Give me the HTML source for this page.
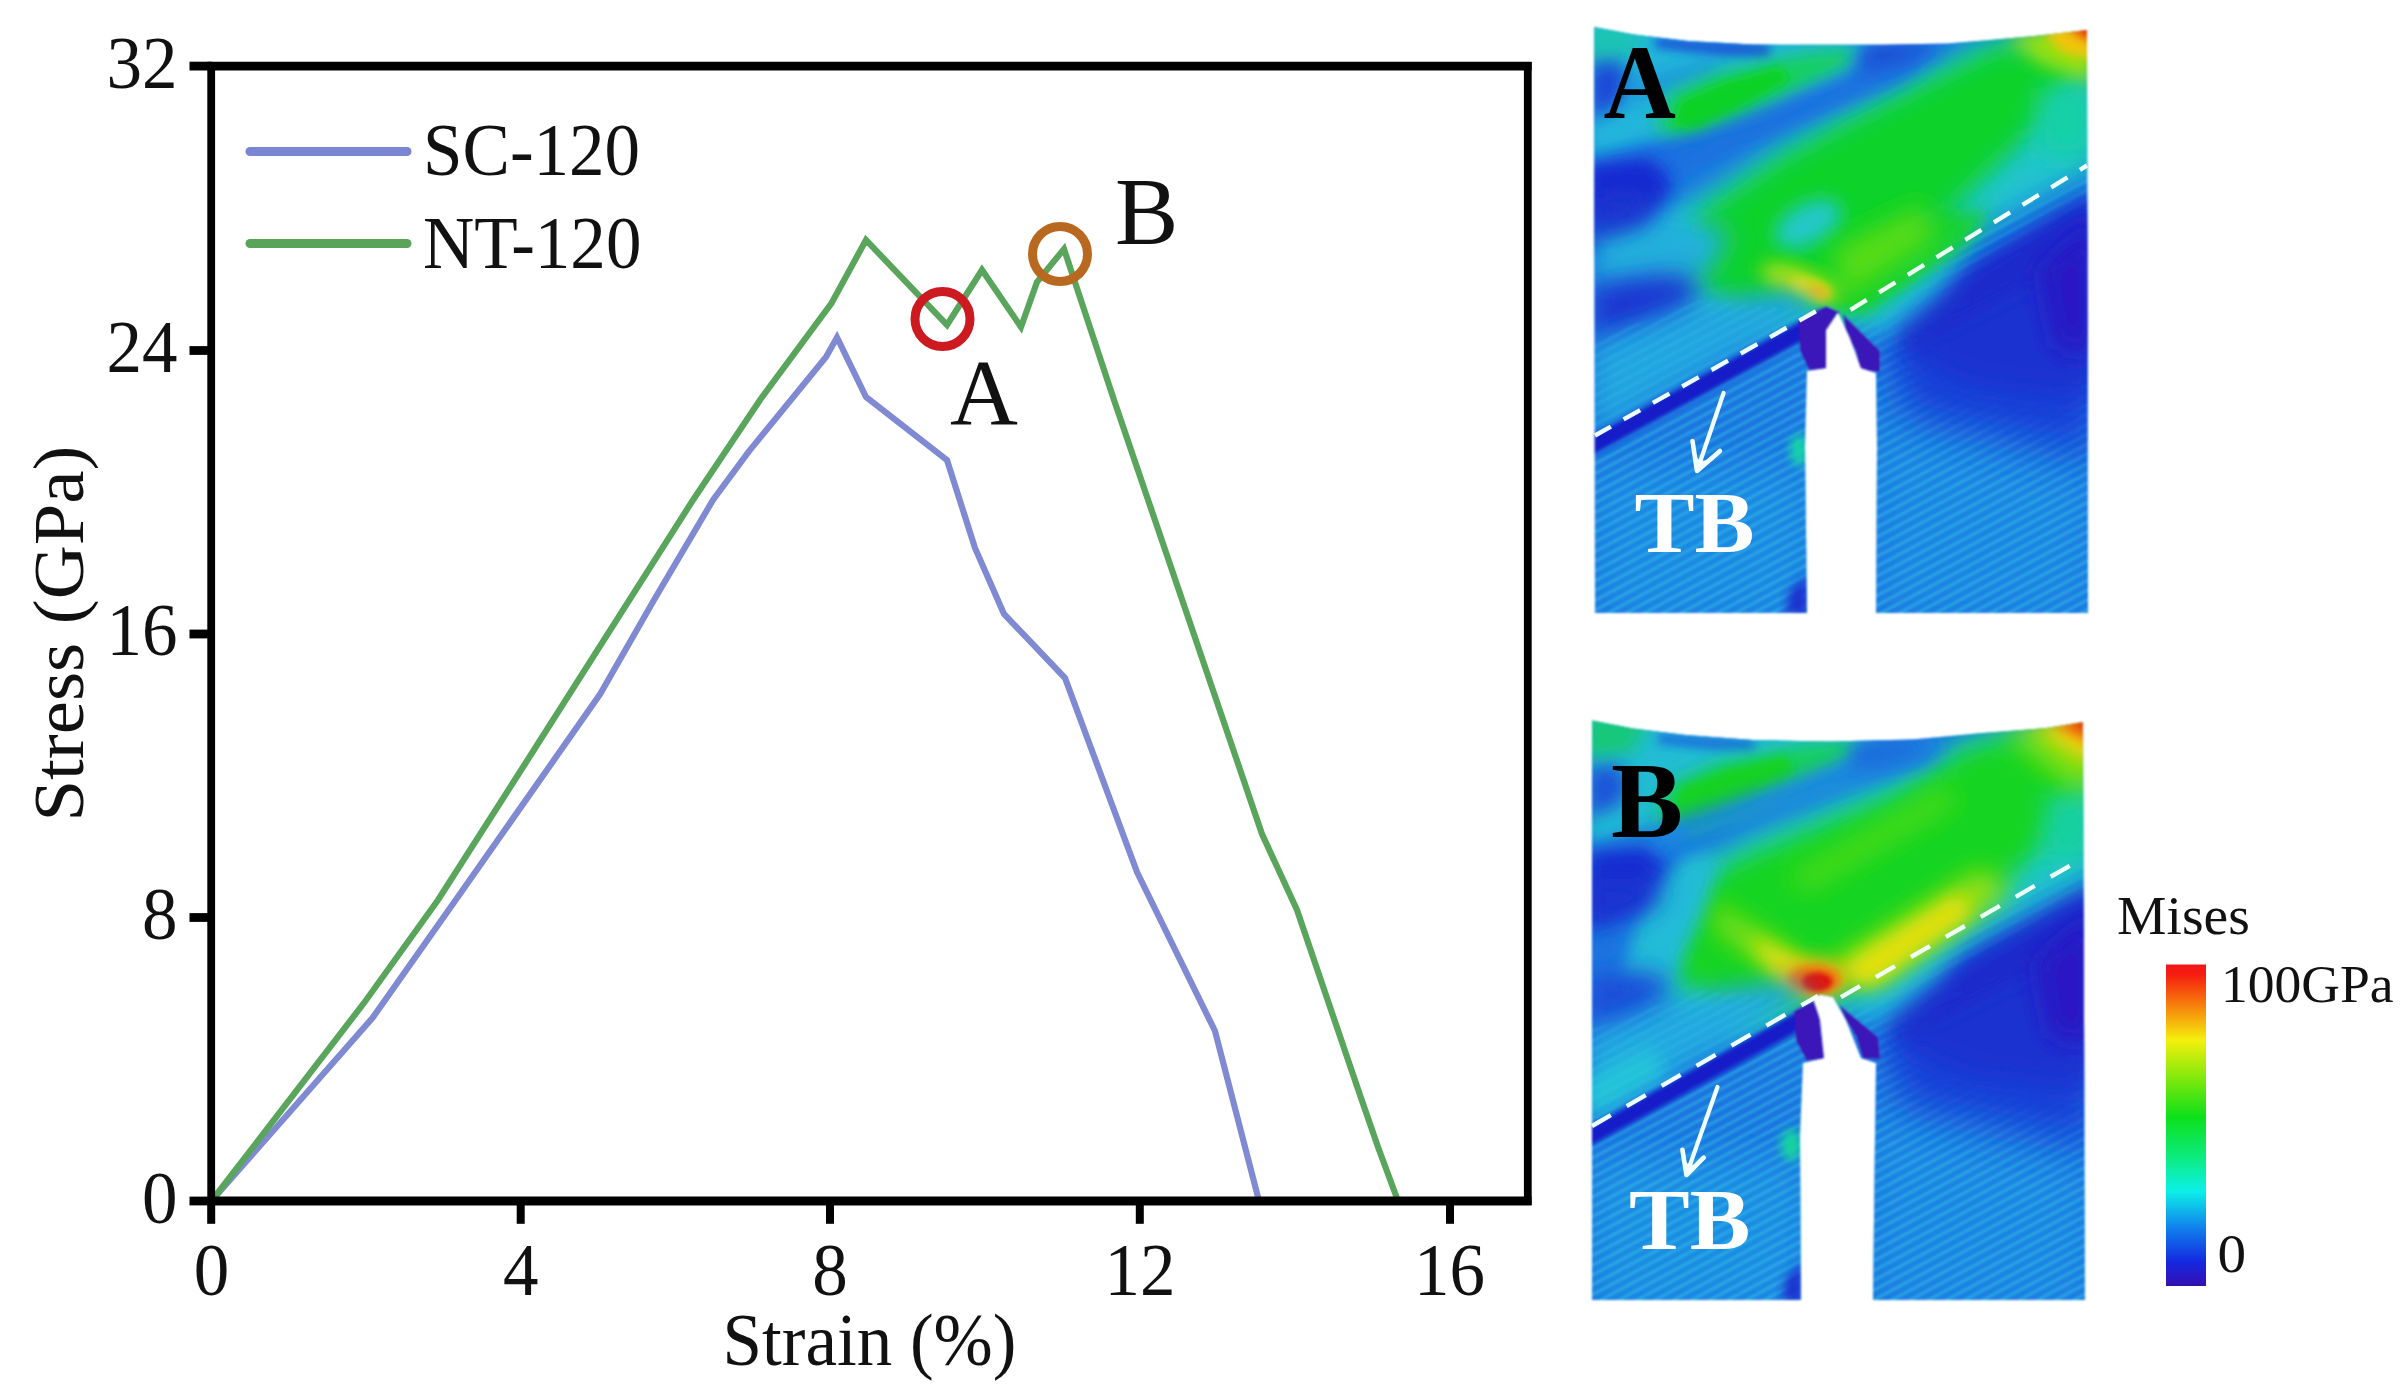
<!DOCTYPE html>
<html><head><meta charset="utf-8"><title>Stress-strain figure</title>
<style>
html,body{margin:0;padding:0;background:#fff;}
body{width:2407px;height:1399px;overflow:hidden;}
svg{display:block;}
text{font-family:"Liberation Serif","Times New Roman",serif;fill:#111;}
</style></head><body>
<svg width="2407" height="1399" viewBox="0 0 2407 1399">
<defs>
<filter id="b2" x="-20%" y="-20%" width="140%" height="140%"><feGaussianBlur stdDeviation="2"/></filter>
<filter id="b4" x="-30%" y="-30%" width="160%" height="160%"><feGaussianBlur stdDeviation="5"/></filter>
<filter id="b7" x="-40%" y="-40%" width="180%" height="180%"><feGaussianBlur stdDeviation="9"/></filter>
<filter id="b10" x="-50%" y="-50%" width="200%" height="200%"><feGaussianBlur stdDeviation="13"/></filter>
<filter id="b14" x="-60%" y="-60%" width="220%" height="220%"><feGaussianBlur stdDeviation="14"/></filter>
<filter id="b20" x="-80%" y="-80%" width="260%" height="260%"><feGaussianBlur stdDeviation="20"/></filter>
<filter id="b30" x="-100%" y="-100%" width="300%" height="300%"><feGaussianBlur stdDeviation="30"/></filter>
<filter id="soft" x="-5%" y="-5%" width="110%" height="110%"><feGaussianBlur stdDeviation="1.2"/></filter>
<clipPath id="clipA"><path d="M1594,27 L1634,34.5 L1688,41 L1753,44.6 L1882,44.8 L1947,43.5 L1990,40 L2034,36 L2087,30 L2088,613 L1876,613 L1877,446 L1876,373 L1861,368 L1850,338 L1838,312 L1826,330 L1826,368 L1807,371 L1805,446 L1807,613 L1595,613 Z"/></clipPath>
<clipPath id="clipB"><path d="M1592,720.5 L1633,728.6 L1686,735 L1753,740 L1830,741.5 L1913,739.5 L1979.5,733.3 L2046,728 L2083,722 L2085,1300 L1873,1300 L1875,1135 L1876,1063 L1861,1058 L1846,1020 L1833,997 L1820,994.5 L1813,999.6 L1820,1020 L1824,1058 L1803,1063 L1800,1135 L1801,1300 L1592,1300 Z"/></clipPath>
<pattern id="hatch" width="40" height="8.6" patternUnits="userSpaceOnUse" patternTransform="rotate(-28.2)"><rect x="0" y="0" width="40" height="3" fill="#38d0e8" opacity="0.42"/></pattern>
<linearGradient id="cbar" x1="0" y1="0" x2="0" y2="1">
<stop offset="0" stop-color="#f0161a"/><stop offset="0.03" stop-color="#f51c10"/><stop offset="0.12" stop-color="#f7780c"/><stop offset="0.235" stop-color="#f4f00c"/><stop offset="0.36" stop-color="#7be80c"/><stop offset="0.475" stop-color="#0ce01a"/><stop offset="0.60" stop-color="#0cec80"/><stop offset="0.705" stop-color="#0cf0e8"/><stop offset="0.82" stop-color="#1080ec"/><stop offset="0.925" stop-color="#1428e0"/><stop offset="1" stop-color="#3410b0"/>
</linearGradient>
</defs>
<rect width="2407" height="1399" fill="#fff"/>
<!-- CHART -->
<g id="chart">
<g fill="none" stroke-linejoin="miter" stroke-linecap="butt">
<polyline stroke="#7f8ad3" stroke-width="6.2" points="211.5,1201 372.6,1017.8 455.7,900 600,694.4 654,600 713,500 748.7,451.6 826,357 837,337.5 866,397 947,460 975,548 1004,614 1065,678 1137,872 1215,1031 1259,1201"/>
<polyline stroke="#5aa55c" stroke-width="6.2" points="211.5,1201 364,1003 438,900 525,764 693,500 760,400 831.6,303 866,240 947,325 982,270 1021,327 1037,282 1064,249 1114,400 1262,834 1297,910 1360,1095 1378,1147 1398,1201"/>
</g>
<g stroke="#000" fill="none">
<line x1="207.4" y1="66.1" x2="1531.6" y2="66.1" stroke-width="8.8"/><line x1="207.4" y1="1201" x2="1531.6" y2="1201" stroke-width="8.8"/>
<line x1="211.2" y1="62" x2="211.2" y2="1205" stroke-width="7.8"/><line x1="1527.8" y1="62" x2="1527.8" y2="1205" stroke-width="7.8"/>
<g stroke-width="8.8"><line x1="189.5" y1="66.1" x2="212" y2="66.1"/><line x1="189.5" y1="350.5" x2="212" y2="350.5"/><line x1="189.5" y1="634" x2="212" y2="634"/><line x1="189.5" y1="917.5" x2="212" y2="917.5"/><line x1="189.5" y1="1201" x2="212" y2="1201"/></g>
<g stroke-width="8"><line x1="211.2" y1="1201" x2="211.2" y2="1223.8"/><line x1="520.7" y1="1201" x2="520.7" y2="1223.8"/><line x1="830" y1="1201" x2="830" y2="1223.8"/><line x1="1139.8" y1="1201" x2="1139.8" y2="1223.8"/><line x1="1450" y1="1201" x2="1450" y2="1223.8"/></g>
</g>
<text transform="translate(177.5,87.5) scale(0.95,1)" font-size="74.8" text-anchor="end">32</text>
<text transform="translate(177.5,371.5) scale(0.95,1)" font-size="74.8" text-anchor="end">24</text>
<text transform="translate(177.5,655.0) scale(0.95,1)" font-size="74.8" text-anchor="end">16</text>
<text transform="translate(177.5,938.5) scale(0.95,1)" font-size="74.8" text-anchor="end">8</text>
<text transform="translate(177.5,1222.5) scale(0.95,1)" font-size="74.8" text-anchor="end">0</text>
<text transform="translate(211.5,1294.5) scale(0.95,1)" font-size="74.8" text-anchor="middle">0</text>
<text transform="translate(520.7,1294.5) scale(0.95,1)" font-size="74.8" text-anchor="middle">4</text>
<text transform="translate(830,1294.5) scale(0.95,1)" font-size="74.8" text-anchor="middle">8</text>
<text transform="translate(1140,1294.5) scale(0.95,1)" font-size="74.8" text-anchor="middle">12</text>
<text transform="translate(1449.5,1294.5) scale(0.95,1)" font-size="74.8" text-anchor="middle">16</text>
<text transform="translate(722.5,1365) scale(0.95,1)" font-size="74.8">Strain (%)</text>
<text transform="translate(83,821.5) rotate(-90) scale(1,0.95)" font-size="74.8">Stress (GPa)</text>
<line x1="250" y1="151.5" x2="407" y2="151.5" stroke="#7b86d2" stroke-width="9" stroke-linecap="round"/>
<line x1="250" y1="243.5" x2="407" y2="243.5" stroke="#5aa45a" stroke-width="9" stroke-linecap="round"/>
<text transform="translate(423,175) scale(0.95,1)" font-size="74.8">SC-120</text>
<text transform="translate(423,267.5) scale(0.95,1)" font-size="74.8">NT-120</text>
<circle cx="942.5" cy="319" r="27.5" fill="none" stroke="#cc1a20" stroke-width="9"/>
<circle cx="1060" cy="254" r="27.5" fill="none" stroke="#b8691f" stroke-width="9"/>
<text x="950" y="423.5" font-size="94">A</text>
<text x="1115" y="243.5" font-size="95">B</text>
</g>
<!-- PANEL A -->
<g id="panelA" filter="url(#soft)">
<g clip-path="url(#clipA)">
<rect x="1580" y="10" width="520" height="620" fill="#1c74e0"/>
<polygon points="1594.0,470.0 1810.0,470.0 1810.0,620.0 1594.0,620.0" fill="#1e88e2" filter="url(#b20)"/>
<polygon points="1875.0,420.0 2090.0,480.0 2090.0,620.0 1875.0,620.0" fill="#1e84e2" filter="url(#b20)"/>
<polygon points="1840,312 2090,171 2090,620 1875,620 1875,372" fill="url(#hatch)"/>
<polygon points="1885.0,335.0 2095.0,192.0 2095.0,455.0 1905.0,415.0" fill="#1840d8" filter="url(#b20)"/>
<polygon points="1900.0,322.0 2095.0,200.0 2095.0,400.0 1975.0,385.0 1910.0,355.0" fill="#1a30d0" filter="url(#b14)"/>
<polygon points="1893.0,316.0 2095.0,192.0 2095.0,250.0 1905.0,350.0" fill="#1a2ccc" filter="url(#b7)"/>
<polygon points="2040.0,270.0 2095.0,222.0 2095.0,355.0 2055.0,348.0" fill="#2c14c4" filter="url(#b10)"/>
<polygon points="1846.0,300.0 1970.0,235.0 1940.0,290.0 1890.0,335.0 1860.0,330.0" fill="#20b8dc" filter="url(#b10)"/>
<polygon points="1585.0,15.0 1880.0,40.0 1870.0,74.0 1740.0,120.0 1585.0,160.0" fill="#24b6da" filter="url(#b7)"/>
<polygon points="1585.0,15.0 1650.0,30.0 1625.0,62.0 1585.0,72.0" fill="#1cc4b4" filter="url(#b7)"/>
<polygon points="1655.0,37.0 1770.0,43.0 1770.0,58.0 1720.0,56.0 1655.0,48.0" fill="#1a5cd8" filter="url(#b4)"/>
<polygon points="1588.0,64.0 1618.0,60.0 1630.0,78.0 1620.0,106.0 1588.0,120.0" fill="#1a48d8" filter="url(#b7)"/>
<polygon points="1625.0,86.0 1718.0,59.0 1722.0,69.0 1636.0,102.0" fill="#1e90dc" filter="url(#b7)"/>
<polygon points="1650.0,222.0 1713.0,186.0 1780.0,142.0 1846.0,106.0 1899.0,80.0 1960.0,50.0 1990.0,36.0 2095.0,36.0 2095.0,170.0 1969.0,238.0 1854.0,326.0 1717.0,330.0 1671.0,296.0" fill="#20c4d0" filter="url(#b14)"/>
<polygon points="1690.0,222.0 1713.0,203.0 1780.0,157.0 1846.0,121.0 1899.0,95.0 1960.0,64.0 2000.0,44.0 2085.0,50.0 2060.0,106.0 1969.0,193.0 1854.5,300.5 1740.0,314.0 1700.0,284.0" fill="#10d22c" filter="url(#b10)"/>
<polygon points="1820.2,307.4 1843.1,273.1 1946.0,204.5 1968.9,227.3 1866.0,314.3" fill="#14d228" filter="url(#b7)"/>
<polygon points="1655.0,132.0 1668.0,94.0 1720.0,72.0 1800.0,54.0 1850.0,48.0 1856.0,64.0 1795.0,92.0 1735.0,122.0 1690.0,138.0" fill="#14d060" filter="url(#b7)"/>
<polygon points="1672.0,126.0 1680.0,100.0 1722.0,82.0 1780.0,66.0 1790.0,80.0 1740.0,108.0 1695.0,130.0" fill="#10d228" filter="url(#b4)"/>
<polygon points="1588.0,168.0 1646.0,152.0 1713.0,130.0 1780.0,104.0 1846.0,76.0 1878.0,44.0 1945.0,44.0 1900.0,80.0 1846.0,102.0 1780.0,128.0 1713.0,152.0 1660.0,178.0 1588.0,244.0" fill="#1c70e0" filter="url(#b7)"/>
<polygon points="1585.0,166.0 1650.0,158.0 1672.0,182.0 1648.0,232.0 1585.0,256.0" fill="#1628d0" filter="url(#b7)"/>
<polygon points="1862.0,44.0 1940.0,44.0 1905.0,62.0 1858.0,72.0" fill="#1a50d6" filter="url(#b7)"/>
<polygon points="1868.0,300.0 1900.0,260.0 1965.0,212.0 1992.0,212.0 1962.0,246.0 1900.0,287.0" fill="#18d230" filter="url(#b7)"/>
<polygon points="2037.6,90.1 2097.0,78.6 2097.0,158.7 2037.6,158.7" fill="#18d0a8" filter="url(#b10)"/>
<ellipse cx="1808.0" cy="224.0" rx="36.0" ry="20.0" transform="rotate(-28 1808.0 224.0)" fill="#20c8c8" filter="url(#b7)"/>
<polygon points="1831.7,250.2 1923.2,204.5 1934.6,238.8 1843.1,298.3" fill="#58dc18" filter="url(#b10)"/>
<ellipse cx="1799.6" cy="283.4" rx="41.2" ry="14.6" transform="rotate(20 1799.6 283.4)" fill="#b4e010" filter="url(#b7)"/>
<ellipse cx="1808.8" cy="288.0" rx="20.6" ry="8.7" transform="rotate(20 1808.8 288.0)" fill="#e8e010" filter="url(#b4)"/>
<ellipse cx="1819.1" cy="291.9" rx="11.4" ry="6.4" transform="rotate(20 1819.1 291.9)" fill="#f0b810" filter="url(#b4)"/>
<polygon points="2005.0,36.0 2095.0,22.0 2095.0,84.0 2040.0,64.0" fill="#98e010" filter="url(#b7)"/>
<polygon points="2042.0,32.0 2095.0,22.0 2095.0,60.0 2062.0,52.0" fill="#f0c410" filter="url(#b4)"/>
<polygon points="2066.0,28.0 2095.0,22.0 2095.0,44.0" fill="#e84010" filter="url(#b4)"/>
<polygon points="2078.0,26.0 2095.0,22.0 2095.0,36.0" fill="#c82808" filter="url(#b2)"/>
<polygon points="1593.0,228.1 1666.4,213.0 1731.2,232.4 1709.6,271.3 1593.0,286.4" fill="#22b0dc" filter="url(#b10)"/>
<polygon points="1593.0,189.2 1655.6,189.2 1644.8,221.6 1593.0,238.9" fill="#1a34d0" filter="url(#b10)"/>
<polygon points="1593.0,286.4 1688.0,273.4 1701.0,303.7 1593.0,338.3" fill="#1a34d0" filter="url(#b10)"/>
<polygon points="1593.0,346.9 1709.6,301.5 1796.0,290.7 1822.0,308.0 1593.0,433.3" fill="#20a4e0" filter="url(#b10)"/>
<polygon points="1594,437 1824,313 1810,372 1810,620 1594,620" fill="url(#hatch)"/>
<polygon points="1594,340 1700,300 1824,313 1594,437" fill="url(#hatch)" opacity="0.5"/>
<polygon points="1588.6,438.1 1823.0,308.4 1824.1,327.5 1796.0,344.3 1588.6,457.5" fill="#161cc8" filter="url(#b2)"/>
<polygon points="1798.0,321.0 1826.0,306.0 1840.0,312.0 1828.0,368.5 1809.0,370.0 1800.0,351.0" fill="#3a12b8"/>
<polygon points="1843.0,314.0 1880.0,351.0 1880.0,372.0 1860.0,370.0 1856.0,351.0 1846.0,334.0" fill="#3a12b8"/>
<ellipse cx="1799.0" cy="450.0" rx="9.0" ry="16.0" transform="rotate(0 1799.0 450.0)" fill="#18d4a8" filter="url(#b4)"/>
<polygon points="1790.0,590.0 1808.0,575.0 1808.0,615.0 1785.0,615.0" fill="#1a30d0" filter="url(#b4)"/>
</g>
</g>
<g id="overA">
<g fill="none" stroke="#eefff8" stroke-width="4.4" stroke-dasharray="19 14.6"><line x1="1595" y1="435.5" x2="1822" y2="307.8" stroke-dashoffset="0.8"/><line x1="1846" y1="312.5" x2="2087" y2="165.5" stroke-dashoffset="28.4"/></g>
<g stroke="#f2ffff" stroke-width="4.2" fill="#f2ffff" stroke-linecap="round" stroke-linejoin="round"><line x1="1723.6" y1="393" x2="1699" y2="465"/><polyline points="1692.5,441 1697,471 1720,451" fill="none" stroke-width="4.6"/><polygon points="1697,471 1694.5,455 1700,461 1709,460" stroke="none"/></g>
<text transform="translate(1634.5,552) scale(1.035,1)" font-size="87" font-weight="bold" style="fill:#fff">TB</text>
<text transform="translate(1603.5,118) scale(0.955,1)" font-size="105" font-weight="bold" style="fill:#000">A</text>
</g>
<!-- PANEL B -->
<g id="panelB" filter="url(#soft)">
<g clip-path="url(#clipB)">
<rect x="1575" y="700" width="525" height="620" fill="#1c74e0"/>
<polygon points="1590.0,1160.0 1806.0,1160.0 1806.0,1310.0 1590.0,1310.0" fill="#1e8ce2" filter="url(#b20)"/>
<polygon points="1870.0,1110.0 2090.0,1170.0 2090.0,1310.0 1870.0,1310.0" fill="#1e84e2" filter="url(#b20)"/>
<polygon points="1832,1000 2090,858 2090,1310 1872,1310 1872,1062" fill="url(#hatch)"/>
<polygon points="1880.0,1025.0 2095.0,882.0 2095.0,1145.0 1900.0,1105.0" fill="#1840d8" filter="url(#b20)"/>
<polygon points="1893.0,1012.0 2095.0,890.0 2095.0,1090.0 1970.0,1075.0 1903.0,1045.0" fill="#1a30d0" filter="url(#b14)"/>
<polygon points="1886.0,1006.0 2095.0,882.0 2095.0,940.0 1898.0,1040.0" fill="#1a2ccc" filter="url(#b7)"/>
<polygon points="2035.0,962.0 2095.0,912.0 2095.0,1045.0 2050.0,1038.0" fill="#2c14c4" filter="url(#b10)"/>
<polygon points="1838.0,990.0 1965.0,922.0 1935.0,978.0 1885.0,1022.0 1855.0,1018.0" fill="#20b8dc" filter="url(#b10)"/>
<polygon points="1585.0,708.0 1880.0,734.0 1870.0,770.0 1740.0,815.0 1585.0,852.0" fill="#22bcd4" filter="url(#b7)"/>
<polygon points="1585.0,708.0 1650.0,722.0 1632.0,752.0 1585.0,760.0" fill="#16c878" filter="url(#b7)"/>
<polygon points="1658.0,733.0 1755.0,739.0 1755.0,751.0 1715.0,750.0 1658.0,744.0" fill="#1a74dc" filter="url(#b4)"/>
<polygon points="1586.0,768.0 1618.0,764.0 1630.0,782.0 1620.0,806.0 1586.0,818.0" fill="#1a54d8" filter="url(#b7)"/>
<polygon points="1640.0,935.0 1680.0,870.0 1753.0,832.0 1819.0,805.0 1899.0,773.0 1966.0,738.0 2000.0,728.0 2095.0,725.0 2095.0,874.0 1969.0,940.0 1854.5,1004.0 1770.0,1032.0 1700.0,1030.0 1650.0,995.0" fill="#20c8cc" filter="url(#b14)"/>
<polygon points="1668.0,928.0 1702.0,878.0 1753.0,852.0 1819.0,825.0 1899.0,792.0 1966.0,748.0 2010.0,736.0 2090.0,742.0 2072.0,819.0 1980.0,906.0 1866.0,984.0 1808.8,1004.0 1770.0,1012.0 1722.0,1008.0 1682.0,985.0 1666.0,955.0" fill="#16d424" filter="url(#b10)"/>
<polygon points="1655.0,826.0 1665.0,786.0 1720.0,762.0 1800.0,746.0 1852.0,740.0 1860.0,756.0 1800.0,784.0 1740.0,812.0 1690.0,832.0" fill="#14d058" filter="url(#b7)"/>
<polygon points="1672.0,820.0 1680.0,788.0 1725.0,770.0 1785.0,756.0 1795.0,772.0 1745.0,800.0 1697.0,824.0" fill="#12d224" filter="url(#b4)"/>
<polygon points="1586.0,846.0 1694.0,813.0 1786.0,783.0 1846.0,760.0 1880.0,740.0 1945.0,740.0 1930.0,764.0 1899.0,770.0 1854.0,783.0 1786.0,805.0 1694.0,835.0 1640.0,870.0 1586.0,930.0" fill="#1c84e0" filter="url(#b7)"/>
<polygon points="1585.0,852.0 1646.0,846.0 1668.0,870.0 1636.0,905.0 1585.0,930.0" fill="#162cd0" filter="url(#b7)"/>
<polygon points="1852.0,741.0 1938.0,741.0 1905.0,760.0 1850.0,772.0" fill="#1a6cdc" filter="url(#b7)"/>
<polygon points="2044.4,796.1 2097.0,786.9 2097.0,860.1 2044.4,860.1" fill="#18d0a0" filter="url(#b10)"/>
<polygon points="1785.9,878.4 1946.0,786.9 1957.5,803.0 1808.8,889.9" fill="#50dc14" filter="url(#b10)"/>
<polygon points="1831.7,963.1 1980.4,869.3 2010.1,889.9 1877.4,986.0" fill="#a0e010" filter="url(#b10)"/>
<polygon points="1836.2,970.0 1957.5,894.5 1973.5,912.8 1866.0,988.3" fill="#e4e010" filter="url(#b7)"/>
<polygon points="1708.1,901.3 1785.9,947.1 1808.8,979.1 1774.5,974.5 1717.3,928.8" fill="#90e010" filter="url(#b10)"/>
<polygon points="1749.3,935.6 1799.6,958.5 1811.1,986.0 1772.2,974.5" fill="#dce010" filter="url(#b7)"/>
<ellipse cx="1813.0" cy="978.0" rx="36.0" ry="20.0" transform="rotate(0 1813.0 978.0)" fill="#f0c010" filter="url(#b7)"/>
<ellipse cx="1814.0" cy="980.0" rx="26.0" ry="14.0" transform="rotate(0 1814.0 980.0)" fill="#f06810" filter="url(#b4)"/>
<ellipse cx="1817.0" cy="982.0" rx="15.0" ry="9.5" transform="rotate(0 1817.0 982.0)" fill="#e01808" filter="url(#b2)"/>
<polygon points="2003.2,729.7 2097.0,713.7 2097.0,796.1 2060.4,780.1" fill="#80e010" filter="url(#b10)"/>
<polygon points="2033.0,727.5 2097.0,716.0 2097.0,768.6" fill="#f0d010" filter="url(#b7)"/>
<polygon points="2051.3,725.2 2097.0,716.0 2097.0,748.0" fill="#f08010" filter="url(#b4)"/>
<polygon points="2067.3,722.9 2097.0,716.0 2097.0,734.3" fill="#e02808" filter="url(#b4)"/>
<polygon points="1622.0,978.0 1648.0,905.0 1688.0,858.0 1720.0,858.0 1700.0,920.0 1668.0,988.0" fill="#22bcd8" filter="url(#b7)"/>
<polygon points="1586.5,879.2 1666.4,879.2 1651.3,909.4 1586.5,926.7" fill="#1a34d0" filter="url(#b10)"/>
<polygon points="1586.5,976.4 1657.8,972.1 1672.9,995.9 1586.5,1028.3" fill="#1a4cd8" filter="url(#b10)"/>
<polygon points="1586.5,1036.9 1709.6,991.5 1785.2,980.7 1813.3,995.9 1586.5,1121.2" fill="#20a8e0" filter="url(#b10)"/>
<polygon points="1586.5,1080.1 1651.3,1047.7 1666.4,1073.6 1586.5,1119.0" fill="#20c4d8" filter="url(#b7)"/>
<polygon points="1590,1128 1816,1002 1806,1062 1806,1310 1590,1310" fill="url(#hatch)"/>
<polygon points="1590,1030 1700,990 1816,1002 1590,1128" fill="url(#hatch)" opacity="0.5"/>
<polygon points="1586.5,1128.9 1814.4,1001.5 1817.2,1018.8 1791.7,1035.2 1586.5,1147.9" fill="#161cc8" filter="url(#b2)"/>
<polygon points="1793.9,1011.0 1815.5,1000.0 1819.8,1019.6 1824.0,1058.5 1806.8,1060.7 1796.0,1041.0" fill="#3a12b8"/>
<polygon points="1839.0,1004.5 1878.0,1037.0 1880.0,1058.5 1863.0,1058.5 1856.5,1037.0 1845.7,1019.6" fill="#3a12b8"/>
<ellipse cx="1791.0" cy="1145.0" rx="10.0" ry="16.0" transform="rotate(0 1791.0 1145.0)" fill="#18d4a0" filter="url(#b4)"/>
<polygon points="1786.0,1278.0 1803.0,1262.0 1803.0,1302.0 1782.0,1302.0" fill="#1a30d0" filter="url(#b4)"/>
</g>
</g>
<g id="overB">
<g fill="none" stroke="#eefff8" stroke-width="4.4" stroke-dasharray="22 18.3"><line x1="1592" y1="1126" x2="1818" y2="995.8" stroke-dashoffset="0.3"/><line x1="1836" y1="1000" x2="2072" y2="864.5" stroke-dashoffset="34.6"/></g>
<g stroke="#f2ffff" stroke-width="4.2" fill="#f2ffff" stroke-linecap="round" stroke-linejoin="round"><line x1="1717.5" y1="1087" x2="1688.5" y2="1169"/><polyline points="1682.4,1149.7 1686.4,1175 1703.7,1157.7" fill="none" stroke-width="4.6"/><polygon points="1686.4,1175 1684.2,1160 1689,1165 1696,1164.5" stroke="none"/></g>
<text transform="translate(1629,1248.8) scale(1.045,1)" font-size="87" font-weight="bold" style="fill:#fff">TB</text>
<text x="1611" y="836.5" font-size="108" font-weight="bold" style="fill:#000">B</text>
</g>
<!-- COLORBAR -->
<g id="cbar">
<rect x="2166" y="964.5" width="40" height="321.5" fill="url(#cbar)"/>
<text transform="translate(2117,934) scale(1.03,1)" font-size="54">Mises</text>
<text transform="translate(2221,1001.5) scale(1.03,1)" font-size="52">100GPa</text>
<text transform="translate(2217.5,1272) scale(1.06,1)" font-size="54">0</text>
</g>
</svg>
</body></html>
